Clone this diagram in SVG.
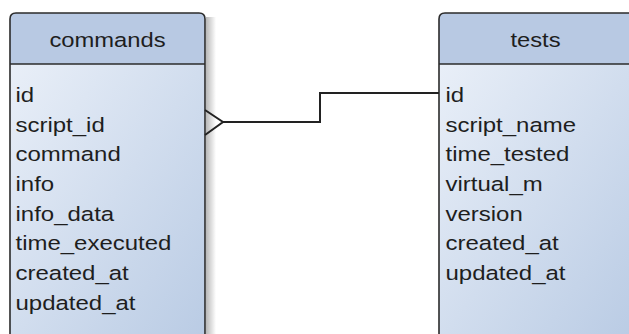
<svg xmlns="http://www.w3.org/2000/svg" width="629" height="334" viewBox="0 0 629 334">
<defs>
<linearGradient id="body" x1="0" y1="0" x2="1" y2="1">
<stop offset="0" stop-color="#e9eff8"/>
<stop offset="1" stop-color="#b9cbe4"/>
</linearGradient>
<linearGradient id="shadow" x1="0" y1="0" x2="1" y2="0">
<stop offset="0" stop-color="#000" stop-opacity="0.28"/>
<stop offset="1" stop-color="#000" stop-opacity="0"/>
</linearGradient>
<style>
.hdr{fill:#b8c9e3;stroke:none}
.bd{fill:url(#body);stroke:none}
.frame{fill:none;stroke:#2b2b2b;stroke-width:1.6}
.t{font-family:"Liberation Sans",Arial,sans-serif;font-size:20.5px;fill:#1e1e1e}
.h{text-anchor:middle}
.conn{fill:none;stroke:#222;stroke-width:2}
</style>
</defs>
<g id="commands">
<rect x="206" y="17" width="10" height="320" fill="url(#shadow)"/>
<path class="hdr" d="M10,64 V19 Q10,13 16,13 H199 Q205,13 205,19 V64 Z"/>
<rect class="bd" x="10" y="64" width="195" height="280"/>
<path class="frame" d="M10,340 V19 Q10,13 16,13 H199 Q205,13 205,19 V340"/>
<line class="frame" x1="10" y1="64" x2="205" y2="64"/>
<g class="t" transform="translate(107.5,0) scale(1.16,1)"><text class="h" x="0" y="47">commands</text></g>
<g class="t" transform="translate(15.5,0) scale(1.17,1)">
<text x="0" y="102">id</text>
<text x="0" y="131.7">script_id</text>
<text x="0" y="161.4">command</text>
<text x="0" y="191.1">info</text>
<text x="0" y="220.8">info_data</text>
<text x="0" y="250.5">time_executed</text>
<text x="0" y="280.2">created_at</text>
<text x="0" y="309.9">updated_at</text>
</g>
</g>
<g id="tests">
<path class="hdr" d="M439,64 V19 Q439,13 445,13 H628 Q634,13 634,19 V64 Z"/>
<rect class="bd" x="439" y="64" width="195" height="280"/>
<path class="frame" d="M439,340 V19 Q439,13 445,13 H628 Q634,13 634,19 V340"/>
<line class="frame" x1="439" y1="64" x2="634" y2="64"/>
<g class="t" transform="translate(535.5,0) scale(1.16,1)"><text class="h" x="0" y="47">tests</text></g>
<g class="t" transform="translate(445.5,0) scale(1.17,1)">
<text x="0" y="102">id</text>
<text x="0" y="131.7">script_name</text>
<text x="0" y="161.4">time_tested</text>
<text x="0" y="191.1">virtual_m</text>
<text x="0" y="220.8">version</text>
<text x="0" y="250.5">created_at</text>
<text x="0" y="280.2">updated_at</text>
</g>
</g>
<g id="connectors">
<path class="conn" d="M223,122 H320 V93 H439"/>
<path class="conn" d="M205,110 L223,122 L205,135"/>
</g>
</svg>
